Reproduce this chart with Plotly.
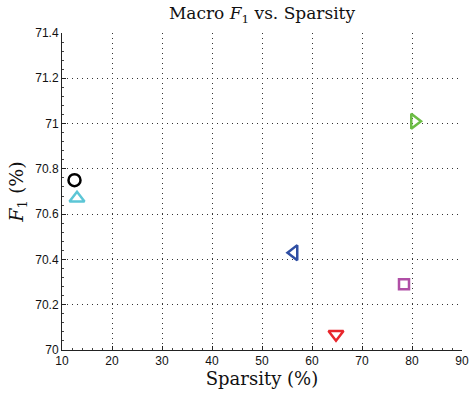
import plotly.graph_objects as go

sparsity = [12.5, 13.0, 56.4, 80.5, 78.4, 64.8]
f1 = [70.75, 70.67, 70.43, 71.01, 70.29, 70.07]
symbols = ["circle-open", "triangle-up-open", "triangle-left-open",
           "triangle-right-open", "square-open", "triangle-down-open"]
colors = ["#000000", "#5cc6d6", "#2f4ea3", "#6cbd45", "#b04fa6", "#e8262c"]
sizes = [12, 13, 13, 13, 10, 13]

x_ticks = [10, 20, 30, 40, 50, 60, 70, 80, 90]
y_ticks = [70, 70.2, 70.4, 70.6, 70.8, 71, 71.2, 71.4]
y_tick_text = ["70", "70.2", "70.4", "70.6", "70.8", "71", "71.2", "71.4"]

fig = go.Figure()
for xv, yv, s, c, sz in zip(sparsity, f1, symbols, colors, sizes):
    fig.add_trace(go.Scatter(
        x=[xv], y=[yv], mode="markers",
        marker=dict(symbol=s, size=sz, color=c, line=dict(color=c, width=2.5)),
        showlegend=False, cliponaxis=False, hoverinfo="skip",
    ))

serif = "DejaVu Serif, Liberation Serif, serif"
sans = "Liberation Sans, Arial, sans-serif"
grid_dash = "1px,4px"

fig.update_layout(
    width=471, height=395,
    margin=dict(l=62, r=9, t=33, b=45),
    paper_bgcolor="white", plot_bgcolor="white",
    title=dict(text="Macro <i>F</i><sub>1</sub> vs. Sparsity", x=0.5, xref="paper",
               y=0.982, yanchor="top",
               font=dict(family=serif, size=17, color="#111")),
    xaxis=dict(
        range=[10, 90], tickvals=x_ticks, ticktext=[str(t) for t in x_ticks],
        automargin=False,
        showline=True, linecolor="#222", linewidth=1,
        ticks="inside", ticklen=4, tickcolor="#222",
        minor=dict(dtick=2, ticks="inside", ticklen=2, tickcolor="#444", showgrid=False),
        showgrid=True, gridcolor="#333", griddash=grid_dash, gridwidth=1,
        zeroline=False,
        tickfont=dict(family=sans, size=12, color="#111"),
        title=dict(text="Sparsity (%)", font=dict(family=serif, size=18, color="#111"), standoff=2),
    ),
    yaxis=dict(
        range=[70, 71.4], tickvals=y_ticks, ticktext=y_tick_text,
        automargin=False,
        showline=True, linecolor="#222", linewidth=1,
        ticks="inside", ticklen=4, tickcolor="#222",
        minor=dict(dtick=0.04, tick0=70, ticks="inside", ticklen=2, tickcolor="#444", showgrid=False),
        showgrid=True, gridcolor="#333", griddash=grid_dash, gridwidth=1,
        zeroline=False,
        tickfont=dict(family=sans, size=12, color="#111"),
        title=dict(text="<i>F</i><sub>1</sub> (%)", font=dict(family=serif, size=19, color="#111"), standoff=6),
    ),
)

fig.write_html(
    "out.html",
    config={"displayModeBar": False, "staticPlot": True},
    post_script="document.body.style.margin='0';document.body.style.overflow='hidden';",
)
